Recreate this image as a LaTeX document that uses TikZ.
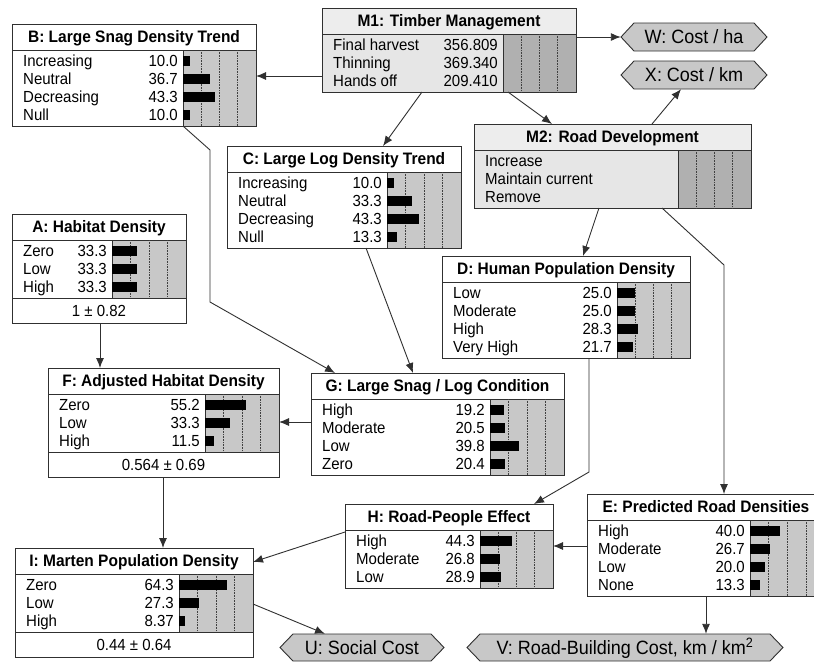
\documentclass[tikz,border=0pt]{standalone}
\usepackage{fontspec}
\setmainfont{Liberation Sans}
\usetikzlibrary{arrows.meta}
\definecolor{bargray}{HTML}{C8C8C8}
\definecolor{dbargray}{HTML}{B0B0B0}
\definecolor{mtitle}{HTML}{EDEDED}
\definecolor{mbody}{HTML}{E6E6E6}
\definecolor{hexgray}{HTML}{C8C8C8}
\definecolor{edgecol}{HTML}{303030}
\newcommand\bnst[1]{\scalebox{1}[1.07]{#1}}
\tikzset{
  boxline/.style={draw=edgecol, line width=0.9pt},
  titletext/.style={font=\fontsize{15.5}{18}\selectfont\bfseries, inner sep=0pt, text height=11.9pt, text depth=0pt},
  rowtext/.style={font=\fontsize{15}{18}\selectfont, inner sep=0pt, text height=11.5pt, text depth=0pt},
  hexline/.style={draw=edgecol, line width=0.9pt, fill=hexgray},
  hextext/.style={font=\fontsize{18}{20}\selectfont, inner sep=0pt, text height=13.8pt, text depth=0pt},
  conn/.style={draw=edgecol, line width=0.9pt, -{Latex[length=10pt,width=8pt]}},
  gridline/.style={draw=black!75, densely dotted, line width=0.6pt},
  anchorbox/.style={inner sep=0pt, outer sep=0pt, draw=none, rectangle, anchor=north west},
}
\newcommand\bnplain{\def\bntitlefill{white}\def\bnbodyfill{white}\def\bnbarfill{bargray}}
\newcommand\bndec{\def\bntitlefill{mtitle}\def\bnbodyfill{mbody}\def\bnbarfill{dbargray}}
% #1 name, #2 L, #3 T, #4 R, #5 bar left, #6 rows, #7 title, #8 rows list, #9 mean
\newcommand\bnbox[9]{%
  \pgfmathsetmacro\bnT{#3+26}%
  \pgfmathsetmacro\bnB{\bnT+18*#6+4}%
  \pgfmathsetmacro\bnW{#4-#5}%
  \filldraw[boxline, fill=\bntitlefill] (#2,#3) rectangle (#4,\bnT);
  \node[titletext] at ({(#2+#4)/2},{#3+13}) {\bnst{#7}};
  \filldraw[boxline, fill=\bnbodyfill] (#2,\bnT) rectangle (#4,\bnB);
  \filldraw[boxline, fill=\bnbarfill] (#5,\bnT) rectangle (#4,\bnB);
  \foreach \k in {1,2,3} \draw[gridline] ({#5+\k*\bnW/4},\bnT) -- ({#5+\k*\bnW/4},\bnB);
  \foreach \lab/\val/\pct [count=\i] in {#8} {%
    \pgfmathsetmacro\bnY{\bnT+11+18*(\i-1)}%
    \node[rowtext, anchor=west] at (#2+11,\bnY) {\bnst{\lab}};
    \node[rowtext, anchor=east] at (#5-5,\bnY) {\bnst{\val}};
    \ifdim\pct pt>0pt
      \fill[black] (#5,\bnY-5) rectangle ({#5+\pct*\bnW/100},\bnY+5);
    \fi
  }%
  \if\relax\detokenize{#9}\relax
    \let\bnE\bnB
  \else
    \pgfmathsetmacro\bnE{\bnB+25}%
    \filldraw[boxline, fill=white] (#2,\bnB) rectangle (#4,\bnE);
    \node[rowtext] at ({(#2+#4)/2},{\bnB+12.5}) {\bnst{#9}};
  \fi
  \node[anchorbox, minimum width=#4-#2, minimum height=\bnE-#3] (#1) at (#2,#3) {};
}
% #1 name, #2 L, #3 R, #4 T, #5 B, #6 text
\newcommand\bnhex[6]{%
  \filldraw[hexline] (#2,{(#4+#5)/2}) -- (#2+13,#4) -- (#3-13,#4) -- (#3,{(#4+#5)/2}) -- (#3-13,#5) -- (#2+13,#5) -- cycle;
  \node[hextext, minimum width=#3-#2, minimum height=#5-#4] (#1) at ({(#2+#3)/2},{(#4+#5)/2}) {\bnst{#6}};
}
\begin{document}
\begin{tikzpicture}[x=1pt,y=-1pt]
\useasboundingbox (0,0) rectangle (814,662);
\clip (0,0) rectangle (814,662);
\fill[white] (0,0) rectangle (814,662);

\bndec
\bnbox{M1}{322}{8}{576}{503}{3}{M1: Timber Management}{Final harvest/356.809/0, Thinning/369.340/0, Hands off/209.410/0}{}
\bnbox{M2}{474}{124}{751}{678}{3}{M2: Road Development}{Increase//0, Maintain current//0, Remove//0}{}
\bnplain
\bnbox{B}{12}{24}{256}{183}{4}{B: Large Snag Density Trend}{Increasing/10.0/10.0, Neutral/36.7/36.7, Decreasing/43.3/43.3, Null/10.0/10.0}{}
\bnbox{A}{12}{214}{186}{112}{3}{A: Habitat Density}{Zero/33.3/33.3, Low/33.3/33.3, High/33.3/33.3}{1 ± 0.82}
\bnbox{C}{227}{146}{461}{387}{4}{C: Large Log Density Trend}{Increasing/10.0/10.0, Neutral/33.3/33.3, Decreasing/43.3/43.3, Null/13.3/13.3}{}
\bnbox{D}{442}{256}{690}{617}{4}{D: Human Population Density}{Low/25.0/25.0, Moderate/25.0/25.0, High/28.3/28.3, Very High/21.7/21.7}{}
\bnbox{G}{311}{373}{564}{490}{4}{G: Large Snag / Log Condition}{High/19.2/19.2, Moderate/20.5/20.5, Low/39.8/39.8, Zero/20.4/20.4}{}
\bnbox{F}{48}{368}{279}{205}{3}{F: Adjusted Habitat Density}{Zero/55.2/55.2, Low/33.3/33.3, High/11.5/11.5}{0.564 ± 0.69}
\bnbox{H}{345}{504}{553}{480}{3}{H: Road-People Effect}{High/44.3/44.3, Moderate/26.8/26.8, Low/28.9/28.9}{}
\bnbox{E}{587}{494}{825}{750}{4}{E: Predicted Road Densities}{High/40.0/40.0, Moderate/26.7/26.7, Low/20.0/20.0, None/13.3/13.3}{}
\bnbox{I}{15}{548}{253}{179}{3}{I: Marten Population Density}{Zero/64.3/64.3, Low/27.3/27.3, High/8.37/8.37}{0.44 ± 0.64}

\bnhex{W}{621}{767}{23}{51}{W: Cost / ha}
\bnhex{X}{621}{767}{61}{89}{X: Cost / km}
\bnhex{U}{280}{444}{634}{661}{U: Social Cost}
\bnhex{V}{467}{783}{634}{661}{V: Road-Building Cost, km / km\textsuperscript{2}}

\coordinate (eb) at (724,265);
\coordinate (bg1) at (210,150);
\coordinate (bg2) at (210,302);
\coordinate (dh) at (589,472);

\draw[conn] (M1.west |- 0,76) -- (B.east |- 0,76);
\draw[conn] (M1.east |- 0,37) -- (W.west);
\draw[conn] (M1.south -| 422,0) -- (C.north -| 383,0);
\draw[conn] (M1.south -| 508,0) -- (M2.north -| 552,0);
\draw[conn] (M2.north -| 652,0) -- (X.south -| 681,0);
\draw[conn] (M2.south -| 599,0) -- (D.north -| 583,0);
\draw[conn] (M2.south -| 662,0) -- (eb) -- (E.north -| 724,0);
\draw[conn] (B.south -| 183,0) -- (bg1) -- (bg2) -- (G.north -| 335,0);
\draw[conn] (C.south -| 366,0) -- (G.north -| 413,0);
\draw[conn] (A.south -| 100,0) -- (F.north -| 100,0);
\draw[conn] (G.west |- 0,422) -- (F.east |- 0,422);
\draw[conn] (F.south -| 163,0) -- (I.north -| 163,0);
\draw[conn] (D.south -| 589,0) -- (dh) -- (H.north -| 534,0);
\draw[conn] (E.west |- 0,546) -- (H.east |- 0,546);
\draw[conn] (H.west |- 0,532) -- (I.east |- 0,562);
\draw[conn] (I.east |- 0,604) -- (U.north -| 325,0);
\draw[conn] (E.south -| 706,0) -- (V.north -| 706,0);
\end{tikzpicture}
\end{document}
